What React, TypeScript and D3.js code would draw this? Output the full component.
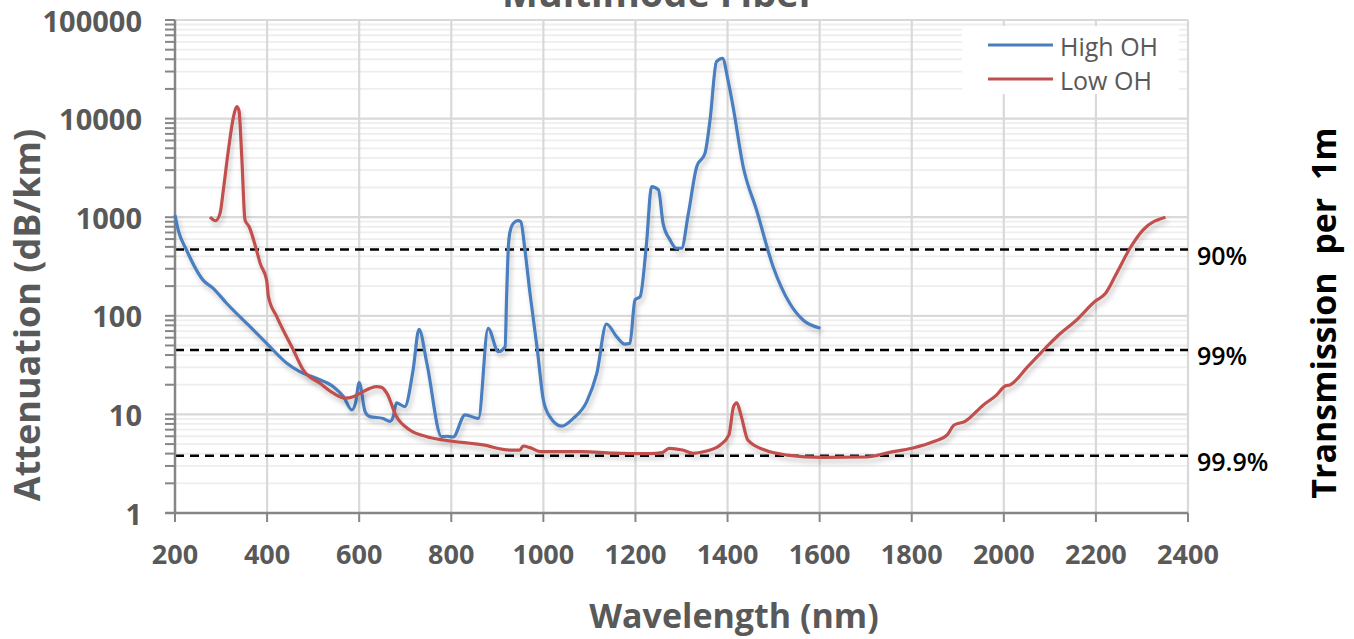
import { useEffect, useRef } from 'react';
import * as d3 from 'd3';

// High OH fiber attenuation (nm, dB/km)
const HIGH_OH_NM = [200, 207, 225, 261, 283, 312, 363, 399, 443, 471, 508, 544, 566, 584, 592, 600, 613, 623, 652, 667, 674, 681, 699, 717, 730, 747, 779, 790, 804, 830, 859, 880, 902, 917, 920, 924, 927, 935, 945, 951, 960, 971, 987, 1000, 1014, 1040, 1065, 1094, 1116, 1137, 1159, 1177, 1188, 1199, 1210, 1224, 1235, 1250, 1260, 1275, 1289, 1300, 1315, 1333, 1351, 1362, 1376, 1389, 1401, 1412, 1434, 1463, 1499, 1535, 1564, 1602];
const HIGH_OH_DB = [1050, 740, 465, 230, 190, 134, 77.5, 52.6, 33, 27.1, 23.2, 19.1, 15.1, 11.1, 13, 21, 10.6, 9.5, 9.1, 8.5, 9.5, 13.1, 12.0, 28, 73, 33, 5.94, 6.0, 5.9, 9.9, 9.1, 74.7, 43.3, 48.5, 145, 500, 690, 867, 922, 900, 465, 169, 45, 14, 9.5, 7.6, 9.1, 13.4, 26, 82.6, 61.5, 51.5, 52.6, 145, 156, 540, 2040, 1890, 867, 590, 484, 484, 1094, 3250, 4450, 9680, 37800, 40800, 24500, 13200, 3250, 1183, 315, 134, 90.6, 74.7];

// Low OH fiber attenuation (nm, dB/km)
const LOW_OH_NM = [276, 288, 298, 305, 316, 327, 334, 339, 345, 352, 361, 377, 385, 399, 403, 421, 457, 479, 515, 544, 569, 587, 602, 638, 649, 660, 681, 710, 747, 783, 869, 927, 949, 956, 971, 993, 1086, 1150, 1231, 1258, 1273, 1302, 1326, 1350, 1384, 1403, 1413, 1420, 1430, 1444, 1481, 1529, 1606, 1703, 1752, 1800, 1848, 1877, 1892, 1916, 1955, 1984, 2003, 2013, 2052, 2090, 2119, 2158, 2197, 2221, 2245, 2274, 2302, 2351];
const LOW_OH_DB = [1000, 920, 1100, 1890, 4800, 10400, 13200, 12000, 4100, 940, 800, 465, 340, 230, 156, 98, 45, 28, 20.7, 16.4, 14.6, 15.1, 16.4, 19.1, 18.8, 16.4, 9.5, 6.95, 5.94, 5.5, 4.9, 4.35, 4.35, 4.78, 4.6, 4.2, 4.2, 4.05, 4.0, 4.1, 4.53, 4.35, 4.03, 4.2, 4.9, 6.2, 12.0, 13.1, 9.5, 5.5, 4.35, 3.87, 3.67, 3.7, 4.12, 4.53, 5.3, 6.2, 7.8, 8.5, 12.4, 15.7, 19.4, 19.9, 30.5, 46.8, 63.9, 90.6, 139, 169, 270, 484, 740, 1000];

// Transmission-per-metre reference levels
const REF_DB = [470, 45, 3.8];
const REF_LABELS = ['90%', '99%', '99.9%'];

const X_TICKS = [200, 400, 600, 800, 1000, 1200, 1400, 1600, 1800, 2000, 2200, 2400];
const Y_TICKS = [1, 10, 100, 1000, 10000, 100000];

const SERIES = [
  { name: 'High OH', color: '#4a7ebf', nm: HIGH_OH_NM, db: HIGH_OH_DB },
  { name: 'Low OH', color: '#c0504d', nm: LOW_OH_NM, db: LOW_OH_DB },
];

const W = 1354;
const H = 639;
const FONT = '"Open Sans", "DejaVu Sans", sans-serif';
const GREY = '#595959';

export default function App() {
  const svgRef = useRef<SVGSVGElement>(null);

  useEffect(() => {
    if (!svgRef.current) return;
    const svg = d3.select(svgRef.current);
    svg.selectAll('*').remove();

    const x = d3.scaleLinear().domain([200, 2400]).range([175, 1188]);
    const y = d3.scaleLog().domain([1, 100000]).range([513, 20]);

    const defs = svg.append('defs');
    const f = defs.append('filter').attr('id', 'shadow').attr('x', '-5%').attr('y', '-5%').attr('width', '110%').attr('height', '120%');
    f.append('feDropShadow').attr('dx', 2).attr('dy', 4).attr('stdDeviation', 2.5)
      .attr('flood-color', '#000').attr('flood-opacity', 0.22);

    svg.append('rect').attr('width', W).attr('height', H).attr('fill', '#fff');

    // minor horizontal grid
    const minor: number[] = [];
    for (let d = 1; d < 100000; d *= 10) for (let k = 2; k <= 9; k++) minor.push(d * k);
    svg.append('g').selectAll('line').data(minor).join('line')
      .attr('x1', 175).attr('x2', 1188)
      .attr('y1', (d) => y(d)).attr('y2', (d) => y(d))
      .attr('stroke', '#eeeeee').attr('stroke-width', 1.8);

    // major grid
    svg.append('g').selectAll('line').data(Y_TICKS.slice(1)).join('line')
      .attr('x1', 175).attr('x2', 1188)
      .attr('y1', (d) => y(d)).attr('y2', (d) => y(d))
      .attr('stroke', '#d9d9d9').attr('stroke-width', 2.2);
    svg.append('g').selectAll('line').data(X_TICKS.slice(1)).join('line')
      .attr('x1', (d) => x(d)).attr('x2', (d) => x(d))
      .attr('y1', 20).attr('y2', 513)
      .attr('stroke', '#d9d9d9').attr('stroke-width', 2.2);

    // reference dashed lines
    svg.append('g').selectAll('line').data(REF_DB).join('line')
      .attr('x1', 175).attr('x2', 1188)
      .attr('y1', (d) => y(d)).attr('y2', (d) => y(d))
      .attr('stroke', '#000').attr('stroke-width', 2.5).attr('stroke-dasharray', '9,6');

    svg.append('g').selectAll('text').data(REF_DB).join('text')
      .attr('x', 1197).attr('y', (d) => y(d) + 5)
      .attr('dominant-baseline', 'central')
      .attr('font-family', FONT).attr('font-size', 25).attr('font-weight', 600)
      .attr('fill', '#000')
      .text((_, i) => REF_LABELS[i]);

    // axes
    const yAxis = svg.append('g').attr('transform', 'translate(175,0)');
    yAxis.append('line').attr('y1', 20).attr('y2', 513).attr('stroke', '#868686').attr('stroke-width', 2.5);
    yAxis.selectAll('line.tk').data([...Y_TICKS, ...minor]).join('line').attr('class', 'tk')
      .attr('x1', -10).attr('x2', 0)
      .attr('y1', (d) => y(d)).attr('y2', (d) => y(d))
      .attr('stroke', '#868686').attr('stroke-width', 2);
    yAxis.selectAll('text').data(Y_TICKS).join('text')
      .attr('x', -33).attr('y', (d) => y(d))
      .attr('text-anchor', 'end').attr('dominant-baseline', 'central')
      .attr('font-family', FONT).attr('font-size', 29).attr('font-weight', 700)
      .attr('fill', GREY)
      .text((d) => String(d));

    const xAxis = svg.append('g').attr('transform', 'translate(0,513)');
    xAxis.append('line').attr('x1', 165).attr('x2', 1188).attr('stroke', '#868686').attr('stroke-width', 2.5);
    xAxis.selectAll('line.tk').data(X_TICKS).join('line').attr('class', 'tk')
      .attr('x1', (d) => x(d)).attr('x2', (d) => x(d))
      .attr('y1', 0).attr('y2', 9)
      .attr('stroke', '#868686').attr('stroke-width', 2);
    xAxis.selectAll('text').data(X_TICKS).join('text')
      .attr('x', (d) => x(d)).attr('y', 40)
      .attr('text-anchor', 'middle').attr('dominant-baseline', 'central')
      .attr('font-family', FONT).attr('font-size', 27).attr('font-weight', 700)
      .attr('fill', GREY)
      .text((d) => String(d));

    // series
    const line = d3.line<[number, number]>()
      .x((d) => x(d[0]))
      .y((d) => y(d[1]))
      .curve(d3.curveMonotoneX);

    SERIES.forEach((s) => {
      const pts = s.nm.map((n, i) => [n, s.db[i]] as [number, number]);
      svg.append('path')
        .attr('d', line(pts) ?? '')
        .attr('fill', 'none')
        .attr('stroke', s.color)
        .attr('stroke-width', 3.2)
        .attr('stroke-linejoin', 'round')
        .attr('filter', 'url(#shadow)');
    });

    // legend
    const lg = svg.append('g');
    lg.append('rect').attr('x', 962).attr('y', 26).attr('width', 217).attr('height', 68).attr('fill', '#fff');
    SERIES.forEach((s, i) => {
      const yy = 45 + i * 34;
      lg.append('line').attr('x1', 988).attr('x2', 1053).attr('y1', yy).attr('y2', yy)
        .attr('stroke', s.color).attr('stroke-width', 3);
      lg.append('text').attr('x', 1060).attr('y', yy + 1)
        .attr('dominant-baseline', 'central')
        .attr('font-family', FONT).attr('font-size', 25)
        .attr('fill', GREY).text(s.name);
    });

    // titles
    svg.append('text').attr('x', 659).attr('y', 7)
      .attr('text-anchor', 'middle')
      .attr('font-family', FONT).attr('font-size', 38).attr('font-weight', 700)
      .attr('fill', GREY).text('Multimode Fiber');

    svg.append('text').attr('x', 734).attr('y', 628)
      .attr('text-anchor', 'middle')
      .attr('font-family', FONT).attr('font-size', 34).attr('font-weight', 700)
      .attr('fill', GREY).text('Wavelength (nm)');

    svg.append('text').attr('transform', 'translate(40,315) rotate(-90)')
      .attr('text-anchor', 'middle')
      .attr('font-family', FONT).attr('font-size', 36).attr('font-weight', 700)
      .attr('fill', GREY).text('Attenuation (dB/km)');

    svg.append('text').attr('transform', 'translate(1336,313) rotate(-90)')
      .attr('text-anchor', 'middle')
      .attr('font-family', FONT).attr('font-size', 34).attr('font-weight', 700)
      .attr('fill', '#000').attr('xml:space', 'preserve')
      .style('white-space', 'pre')
      .text('Transmission  per  1m');
  }, []);

  return (
    <div>
      <style>{'body{margin:0}'}</style>
      <svg ref={svgRef} width={W} height={H} style={{ display: 'block' }} />
    </div>
  );
}
